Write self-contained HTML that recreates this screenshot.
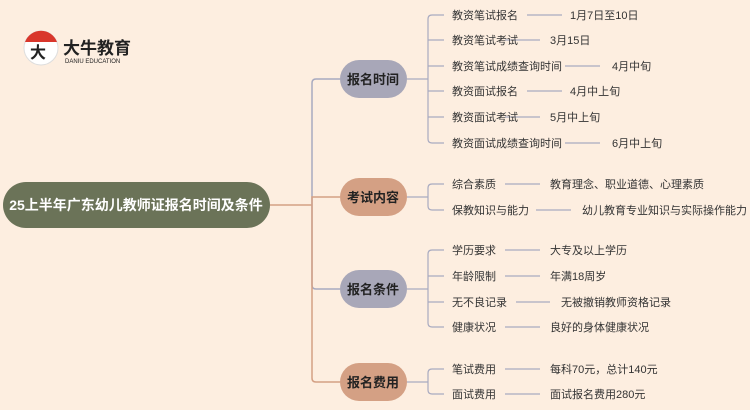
<!DOCTYPE html>
<html><head><meta charset="utf-8"><style>
html,body{margin:0;padding:0;background:#fdeee0;}
svg{display:block;font-family:"Liberation Sans","Noto Sans CJK SC",sans-serif;}
</style></head><body>
<svg width="750" height="410" viewBox="0 0 750 410" xmlns="http://www.w3.org/2000/svg">
<rect width="750" height="410" fill="#fdeee0"/>
<!-- logo -->
<circle cx="41" cy="48" r="17" fill="#fff" stroke="#ddd"/>
<path d="M25 42 A17 17 0 0 1 57 42 Z" fill="#d9362b"/>
<text x="30" y="58" font-size="16" font-weight="bold" fill="#222">大</text>
<text x="63" y="54" font-size="17" font-weight="bold" fill="#222">大牛教育</text>
<text x="65" y="63" font-size="6" fill="#222">DANIU EDUCATION</text>
<!-- root -->
<rect x="3" y="182" width="267" height="46" rx="23" fill="#6b7358"/>
<text x="136" y="210" font-size="14" font-weight="bold" fill="#fff" text-anchor="middle">25上半年广东幼儿教师证报名时间及条件</text>
<g fill="none" stroke-width="1.5">
<path d="M270 205 H312" stroke="#d4a084"/>
<path d="M340 79 H316 Q312 79 312 83 V205" stroke="#a8aac0"/>
<path d="M312 205 V197 H340" stroke="#d4a084"/>
<path d="M312 205 V285 Q312 289 316 289 H340" stroke="#a8aac0"/>
<path d="M312 205 V378 Q312 382 316 382 H340" stroke="#d4a084"/>
</g>
<g font-size="13" font-weight="bold" fill="#222" text-anchor="middle">
<rect x="340" y="60" width="67" height="38" rx="19" fill="#a8a7b8"/><text x="373" y="84">报名时间</text>
<rect x="340" y="178" width="67" height="38" rx="19" fill="#d4a084"/><text x="373" y="202">考试内容</text>
<rect x="340" y="270" width="67" height="38" rx="19" fill="#a8a7b8"/><text x="373" y="294">报名条件</text>
<rect x="340" y="363" width="67" height="38" rx="19" fill="#d4a084"/><text x="373" y="387">报名费用</text>
</g>
<g fill="none" stroke="#a8aac0" stroke-width="1.2">
<path d="M407 79 H428"/><path d="M407 197 H428"/><path d="M407 289 H428"/><path d="M407 382 H428"/>
<path d="M444 15 H432 Q428 15 428 19 V139 Q428 143 432 143 H444"/>
<path d="M428 40 H444 M428 66 H444 M428 91 H444 M428 117 H444"/>
<path d="M444 184 H432 Q428 184 428 188 V206 Q428 210 432 210 H444"/>
<path d="M444 250 H432 Q428 250 428 254 V323 Q428 327 432 327 H444"/>
<path d="M428 276 H444 M428 302 H444"/>
<path d="M444 369 H432 Q428 369 428 373 V390 Q428 394 432 394 H444"/>
<path d="M527 15 H562 M505 40 H540 M565 66 H600 M527 91 H562 M505 117 H540 M565 143 H600"/>
<path d="M505 184 H540 M536 210 H571"/>
<path d="M505 250 H540 M505 276 H540 M516 302 H550 M505 327 H540"/>
<path d="M505 369 H540 M505 394 H540"/>
</g>
<g font-size="11" fill="#333">
<text x="452" y="19">教资笔试报名</text><text x="570" y="19">1月7日至10日</text>
<text x="452" y="44">教资笔试考试</text><text x="550" y="44">3月15日</text>
<text x="452" y="70">教资笔试成绩查询时间</text><text x="612" y="70">4月中旬</text>
<text x="452" y="95">教资面试报名</text><text x="570" y="95">4月中上旬</text>
<text x="452" y="121">教资面试考试</text><text x="550" y="121">5月中上旬</text>
<text x="452" y="147">教资面试成绩查询时间</text><text x="612" y="147">6月中上旬</text>
<text x="452" y="188">综合素质</text><text x="550" y="188">教育理念、职业道德、心理素质</text>
<text x="452" y="214">保教知识与能力</text><text x="582" y="214">幼儿教育专业知识与实际操作能力</text>
<text x="452" y="254">学历要求</text><text x="550" y="254">大专及以上学历</text>
<text x="452" y="280">年龄限制</text><text x="550" y="280">年满18周岁</text>
<text x="452" y="306">无不良记录</text><text x="561" y="306">无被撤销教师资格记录</text>
<text x="452" y="331">健康状况</text><text x="550" y="331">良好的身体健康状况</text>
<text x="452" y="373">笔试费用</text><text x="550" y="373">每科70元，总计140元</text>
<text x="452" y="398">面试费用</text><text x="550" y="398">面试报名费用280元</text>
</g>
</svg>
</body></html>
